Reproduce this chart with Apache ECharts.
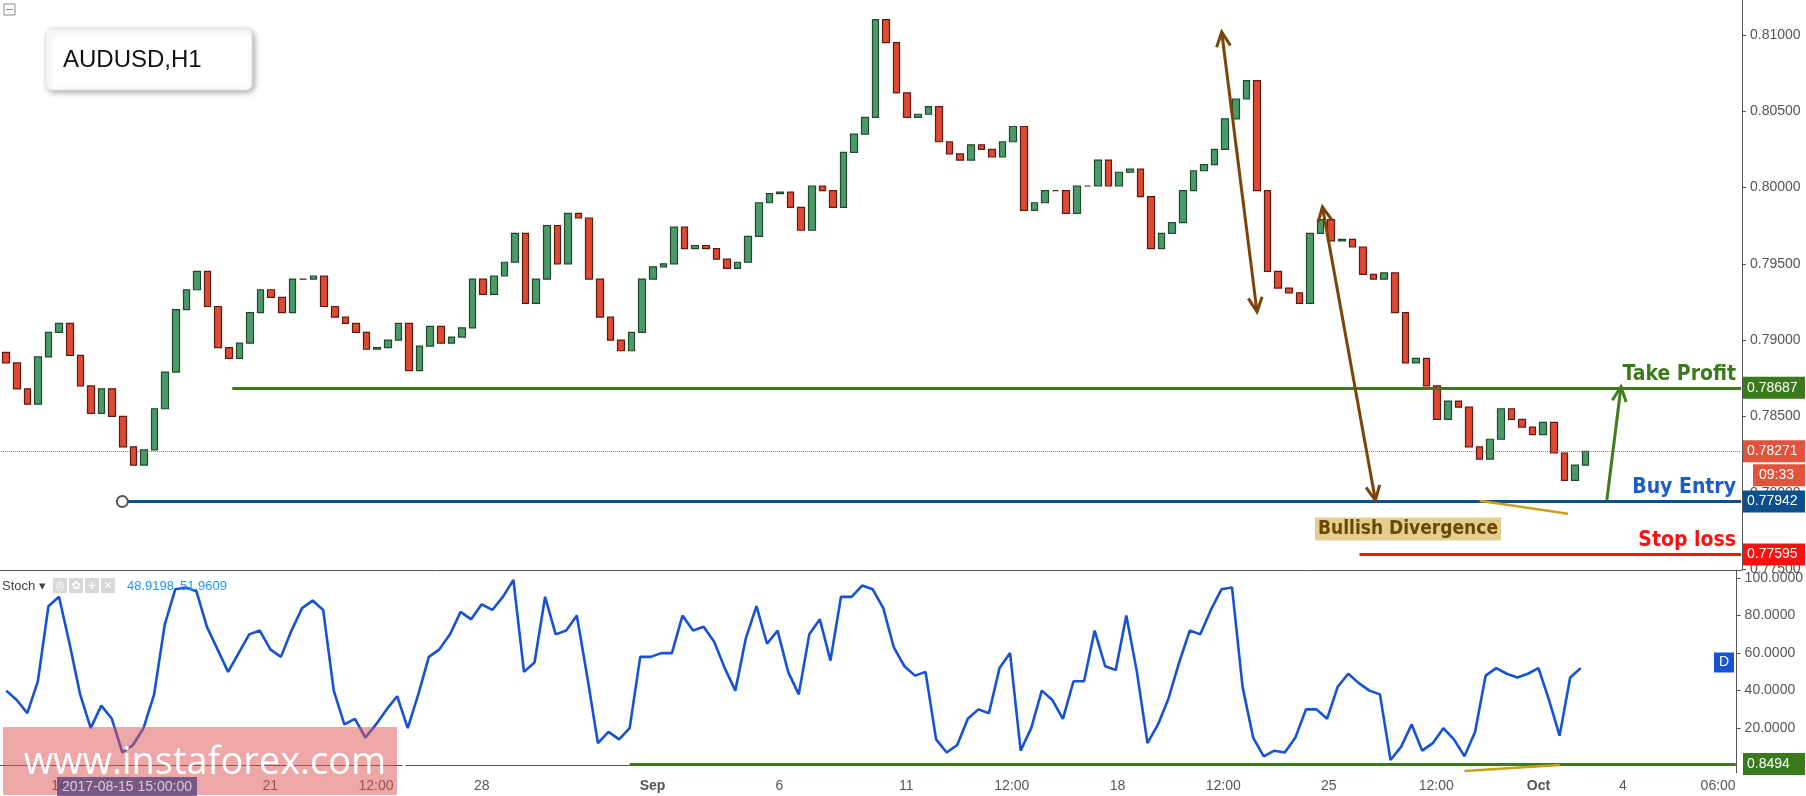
<!DOCTYPE html>
<html><head><meta charset="utf-8">
<script src="https://cdn.jsdelivr.net/npm/echarts@6/dist/echarts.min.js"></script>
<style>html,body{margin:0;padding:0;background:#fff}#c{width:1806px;height:796px}</style>
</head><body><div id="c"></div>
<script>
// ---- data ----
const TOTAL_HOURS = 986;          // hourly slots on the time axis
const CANDLE_STEP = 6;            // each candle = 6 hours
const firstOpen = 0.7892;
const closes = [
.7885,.7868,.7858,.7889,.7905,.7911,.7890,.7870,.7852,.7868,.7850,.7830,.7818,.7828,.7855,.7879,.7920,.7933,.7945,.7922,
.7895,.7888,.7898,.7918,.7933,.7928,.7918,.7940,.7940,.7942,.7922,.7915,.7911,.7905,.7894,.7895,.7900,.7911,.7880,.7896,
.7909,.7898,.7902,.7908,.7940,.7930,.7942,.7951,.7970,.7924,.7940,.7975,.7950,.7983,.7980,.7940,.7915,.7900,.7893,.7905,
.7940,.7948,.7950,.7974,.7960,.7962,.7960,.7953,.7947,.7951,.7968,.7990,.7996,.7997,.7987,.7972,.8001,.7998,.7987,.8023,
.8035,.8046,.8110,.8095,.8062,.8046,.8048,.8053,.8030,.8022,.8018,.8028,.8025,.8020,.8030,.8040,.7985,.7990,.7998,.7998,
.7983,.8001,.8001,.8018,.8001,.8010,.8012,.7994,.7960,.7970,.7977,.7998,.8011,.8015,.8025,.8045,.8058,.8070,.7998,.7945,
.7934,.7931,.7924,.7970,.7979,.7965,.7966,.7961,.7943,.7940,.7944,.7918,.7885,.7888,.7870,.7848,.7860,.7856,.7830,.7822,
.7835,.7855,.7848,.7843,.7838,.7846,.7826,.7808,.7818,.7827];
const stoch = [
40,35,28,45,85,90,65,38,20,32,25,7,11,20,38,75,94,95,93,74,
62,50,60,70,72,62,58,72,84,88,83,40,22,25,15,22,30,37,20,38,
58,62,70,82,78,86,83,90,99,50,55,90,70,72,80,47,12,18,14,20,
58,58,60,60,80,72,74,66,52,40,68,85,65,72,50,38,70,78,56,90,
90,96,94,84,63,53,48,50,14,7,11,25,30,28,52,60,8,20,40,35,
25,45,45,72,53,51,80,50,12,22,36,55,72,70,83,94,95,42,15,5,
8,7,15,30,30,25,42,49,44,40,38,3,10,22,8,12,20,14,5,18,
48,52,49,47,49,52,35,16,47,52];
const xTickHours  = [33,153,213,273,370,442,514,574,634,694,754,815,873,921,975];
const xTickLabels = ['14','21','12:00','28','Sep','6','11','12:00','18','12:00','25','12:00','Oct','4','06:00'];
const priceTicks = [0.775,0.78,0.785,0.79,0.795,0.80,0.805,0.81];
const stochTicks = [20,40,60,80,100];
const levels = {takeProfit:0.78687, buyEntry:0.77942, stopLoss:0.77595, current:0.78271, stochLow:0.8494};
const levelStartHour = {takeProfit:131, buyEntry:71, stopLoss:769, stochLow:357};
const stochHeader = ['48.9198','51.9609'];
// annotation arrows in (hour, price)
const arrows = [
  {from:[691,0.81019], to:[711,0.79185], both:true, color:'#7a4506'},
  {from:[748,0.79873], to:[778,0.77950], both:true, color:'#7a4506'},
  {from:[909,0.77950], to:[917,0.78694], both:false, color:'#3f7d1c'}
];
const divPrice = [[837,0.77947],[887,0.77862]];
const divStoch = [[831,-2.8],[885,0.3]];

// ---- build ----
const cats = Array.from({length:TOTAL_HOURS},(_,i)=>String(i));
const candleData = cats.map(()=>'-');
closes.forEach((c,i)=>{const o=i?closes[i-1]:firstOpen;candleData[i*CANDLE_STEP+3]=[o,c,Math.min(o,c),Math.max(o,c)];});
const stochData = cats.map(()=>null);
stoch.forEach((v,i)=>{stochData[i*CANDLE_STEP+3]=v;});

const chart = echarts.init(document.getElementById('c'),null,{renderer:'canvas'});
const axisCol='#555';
chart.setOption({
  animation:false,
  grid:[{left:0,right:64,top:0,height:570},{left:0,right:64,top:570,bottom:23}],
  xAxis:[
    {type:'category',data:cats,gridIndex:0,boundaryGap:true,axisLine:{lineStyle:{color:axisCol}},axisTick:{show:false},axisLabel:{show:false}},
    {type:'category',data:cats,gridIndex:1,boundaryGap:true,axisLine:{lineStyle:{color:axisCol}},
     axisTick:{interval:(i)=>xTickHours.includes(i),length:4,lineStyle:{color:axisCol}},
     axisLabel:{interval:(i)=>xTickHours.includes(i),color:'#555',fontSize:14,fontFamily:'Arial, Liberation Sans',margin:6,
       formatter:(v,i)=>{const k=xTickHours.indexOf(+v);const t=xTickLabels[k];return (t==='Sep'||t==='Oct')?'{b|'+t+'}':t;},
       rich:{b:{fontWeight:'bold',fontSize:14,color:'#555'}}}}
  ],
  yAxis:[
    {type:'value',gridIndex:0,position:'right',min:0.77493,max:0.81229,splitLine:{show:false},
     axisLine:{show:true,lineStyle:{color:axisCol}},axisTick:{show:true,customValues:priceTicks,length:4,lineStyle:{color:axisCol}},
     axisLabel:{customValues:priceTicks,formatter:v=>v.toFixed(5),color:'#555',fontSize:14,fontFamily:'Arial, Liberation Sans',margin:8}},
    {type:'value',gridIndex:1,position:'right',min:-3.9,max:104.3,splitLine:{show:false},
     axisLine:{show:true,lineStyle:{color:axisCol}},axisTick:{show:true,customValues:stochTicks,length:4,lineStyle:{color:axisCol}},
     axisLabel:{customValues:stochTicks,formatter:v=>v.toFixed(4),color:'#555',fontSize:14,fontFamily:'Arial, Liberation Sans',margin:8}}
  ],
  series:[
    {type:'candlestick',xAxisIndex:0,yAxisIndex:0,data:candleData,barWidth:7,large:false,progressive:0,
     itemStyle:{color:'#4c9a6a',color0:'#e04a34',borderColor:'#1d4a2b',borderColor0:'#5e1a10',borderWidth:1.2},
     markLine:{silent:true,symbol:'none',label:{show:false},data:[
       [{coord:['0',levels.current],lineStyle:{color:'#e0533d',type:'dotted',width:1}},{coord:[String(TOTAL_HOURS-1),levels.current]}],
       [{coord:[String(levelStartHour.takeProfit),levels.takeProfit],lineStyle:{color:'#3b7a1c',type:'solid',width:3}},{coord:[String(TOTAL_HOURS-1),levels.takeProfit]}],
       [{coord:[String(levelStartHour.buyEntry),levels.buyEntry],lineStyle:{color:'#0d4f8b',type:'solid',width:3}},{coord:[String(TOTAL_HOURS-1),levels.buyEntry]}],
       [{coord:[String(levelStartHour.stopLoss),levels.stopLoss],lineStyle:{color:'#ff1010',type:'solid',width:3}},{coord:[String(TOTAL_HOURS-1),levels.stopLoss]}]
     ]}},
    {type:'line',xAxisIndex:1,yAxisIndex:1,data:stochData,connectNulls:true,showSymbol:false,
     lineStyle:{color:'#1652d4',width:2.6},
     markLine:{silent:true,symbol:'none',label:{show:false},data:[
       [{coord:[String(levelStartHour.stochLow),levels.stochLow],lineStyle:{color:'#3b7a1c',type:'solid',width:3}},{coord:[String(TOTAL_HOURS-1),levels.stochLow]}]
     ]}}
  ]
});

function P(h,p){return chart.convertToPixel({xAxisIndex:0,yAxisIndex:0},[h,p]);}
function S(h,v){return chart.convertToPixel({xAxisIndex:1,yAxisIndex:1},[h,v]);}
const g=[];
const AX=1742;
function box(y,txt,bg){g.push({type:'rect',shape:{x:AX+1,y:y-11,width:62,height:22},style:{fill:bg},z:50});
  g.push({type:'text',x:AX+5,y:y,style:{text:txt,fill:'#fff',font:'14px Arial, Liberation Sans',verticalAlign:'middle'},z:51});}
const narrow='"Liberation Sans Narrow", "Arial Narrow", "DejaVu Sans Condensed", sans-serif';
function ltxt(y,txt,col){g.push({type:'text',x:AX-6,y:y-3,style:{text:txt,fill:col,font:'bold 21px '+narrow,align:'right',verticalAlign:'bottom'},z:40});}
const yTP=P(0,levels.takeProfit)[1], yBE=P(0,levels.buyEntry)[1], ySL=P(0,levels.stopLoss)[1], yCur=P(0,levels.current)[1];
const yStL=S(0,levels.stochLow)[1];
box(yTP,levels.takeProfit.toFixed(5),'#3b7a1c'); ltxt(yTP,'Take Profit','#3b7a1c');
box(yBE,levels.buyEntry.toFixed(5),'#0d4f8b'); ltxt(yBE,'Buy Entry','#1a5ccc');
box(ySL,levels.stopLoss.toFixed(5),'#ff1010'); ltxt(ySL,'Stop loss','#ff1010');
box(yCur,levels.current.toFixed(5),'#e0533d');
g.push({type:'rect',shape:{x:AX+11,y:yCur+13,width:52,height:22},style:{fill:'#e0533d'},z:50});
g.push({type:'text',x:AX+17,y:yCur+24,style:{text:'09:33',fill:'#fff',font:'14px Arial, Liberation Sans',verticalAlign:'middle'},z:51});
box(yStL,levels.stochLow.toFixed(4),'#3b7a1c');
const yD=S(0,55)[1];
g.push({type:'rect',shape:{x:1714,y:yD-10,width:20,height:20},style:{fill:'#1652d4'},z:50});
g.push({type:'text',x:1724,y:yD,style:{text:'D',fill:'#fff',font:'14px Arial',align:'center',verticalAlign:'middle'},z:51});
const be0=P(levelStartHour.buyEntry,levels.buyEntry);
g.push({type:'circle',shape:{cx:be0[0]-4,cy:be0[1],r:5.5},style:{fill:'#fff',stroke:'#555',lineWidth:2},z:45});
function head(tip,from,col){const a=Math.atan2(from[1]-tip[1],from[0]-tip[0]);const L=16,w=0.45;
  g.push({type:'polyline',shape:{points:[[tip[0]+L*Math.cos(a+w),tip[1]+L*Math.sin(a+w)],tip,[tip[0]+L*Math.cos(a-w),tip[1]+L*Math.sin(a-w)]]},style:{stroke:col,lineWidth:3,fill:null},z:42});}
arrows.forEach(a=>{const f=P(a.from[0],a.from[1]),t=P(a.to[0],a.to[1]);
  g.push({type:'line',shape:{x1:f[0],y1:f[1],x2:t[0],y2:t[1]},style:{stroke:a.color,lineWidth:3},z:42});
  head(t,f,a.color); if(a.both) head(f,t,a.color);});
{const a=P(divPrice[0][0],divPrice[0][1]),b=P(divPrice[1][0],divPrice[1][1]);
 g.push({type:'line',shape:{x1:a[0],y1:a[1],x2:b[0],y2:b[1]},style:{stroke:'#c9a018',lineWidth:2.5},z:42});}
{const a=S(divStoch[0][0],divStoch[0][1]),b=S(divStoch[1][0],divStoch[1][1]);
 g.push({type:'line',shape:{x1:a[0],y1:a[1],x2:b[0],y2:b[1]},style:{stroke:'#c9a018',lineWidth:2.5},z:42});}
g.push({type:'text',x:1408,y:529,style:{text:'Bullish Divergence',fill:'#6b4800',backgroundColor:'#e3cd8f',padding:[2,3],font:'bold 19px '+narrow,align:'center',verticalAlign:'middle'},z:45});
g.push({type:'rect',shape:{x:46,y:29,width:206,height:61,r:6},style:{fill:'#fff',stroke:'#e6e6e6',shadowBlur:6,shadowColor:'rgba(0,0,0,0.35)',shadowOffsetX:2,shadowOffsetY:2},z:60});
g.push({type:'text',x:63,y:60,style:{text:'AUDUSD,H1',fill:'#111',font:'24px Arial, Liberation Sans',verticalAlign:'middle'},z:61});
g.push({type:'rect',shape:{x:4,y:4,width:11,height:11},style:{fill:'#fff',stroke:'#888',lineWidth:1},z:60});
g.push({type:'line',shape:{x1:6,y1:9.5,x2:13,y2:9.5},style:{stroke:'#888',lineWidth:1},z:61});
g.push({type:'text',x:2,y:586,style:{text:'Stoch ▾',fill:'#444',font:'13px Arial, Liberation Sans',verticalAlign:'middle'},z:60});
['◎','✿','+','✕'].forEach((s,i)=>{g.push({type:'rect',shape:{x:53+i*16,y:578,width:14,height:15},style:{fill:'#d8d8d8'},z:60});
  g.push({type:'text',x:60+i*16,y:586,style:{text:s,fill:'#fff',font:'bold 11px DejaVu Sans',align:'center',verticalAlign:'middle'},z:61});});
g.push({type:'text',x:127,y:586,style:{text:stochHeader[0],fill:'#2196f3',font:'13px Arial, Liberation Sans',verticalAlign:'middle'},z:60});
g.push({type:'text',x:180,y:586,style:{text:stochHeader[1],fill:'#2196f3',font:'13px Arial, Liberation Sans',verticalAlign:'middle'},z:60});
g.push({type:'rect',shape:{x:3,y:727,width:394,height:68},style:{fill:'rgba(221,80,80,0.5)'},z:70});
g.push({type:'text',x:200,y:763,style:{text:'[  www.instaforex.com ]',fill:'#fff',font:'38px "Open Sans", sans-serif',align:'center',verticalAlign:'middle'},z:71});
g.push({type:'rect',shape:{x:57,y:777,width:140,height:19},style:{fill:'rgba(80,60,120,0.75)'},z:72});
g.push({type:'text',x:127,y:787,style:{text:'2017-08-15 15:00:00',fill:'rgba(255,255,255,0.7)',font:'14px Arial, Liberation Sans',align:'center',verticalAlign:'middle'},z:73});
chart.setOption({graphic:{elements:g}});
</script></body></html>
